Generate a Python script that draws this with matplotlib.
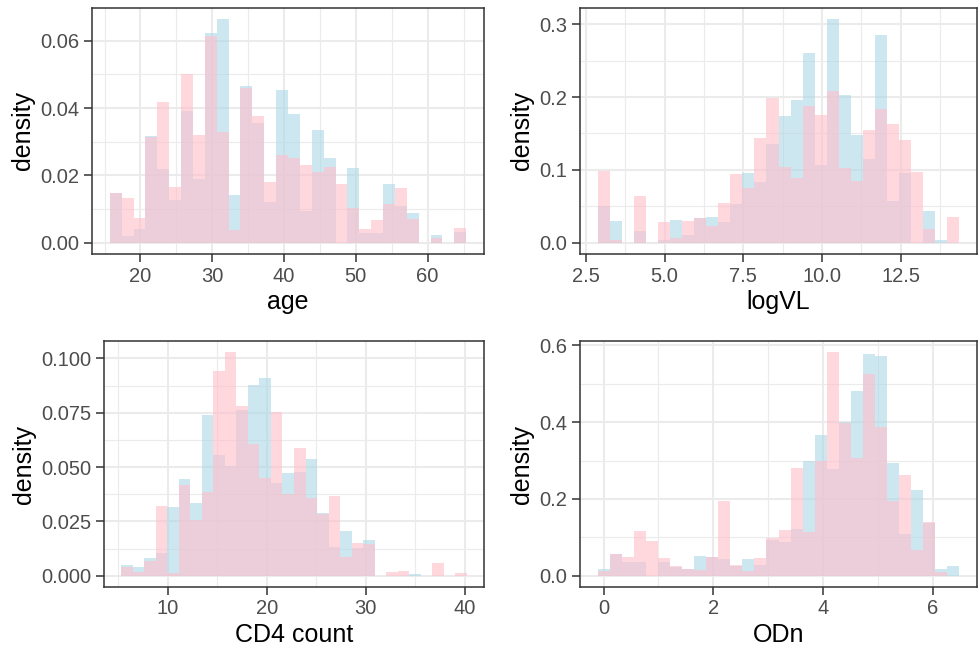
import numpy as np
import matplotlib
matplotlib.use("Agg")
import matplotlib.pyplot as plt
from matplotlib.ticker import FixedLocator

plt.rcParams["font.family"] = ["Liberation Sans", "DejaVu Sans"]

# ---- data (30 bins per panel, density scale) ----
age_range = (15.74, 65.37)
age_blue = [0.0147, 0.0021, 0.0042, 0.0317, 0.0219, 0.0127, 0.0390, 0.0190,
            0.0622, 0.0664, 0.0142, 0.0466, 0.0357, 0.0120, 0.0454, 0.0383,
            0.0094, 0.0335, 0.0252, 0.0, 0.0221, 0.0030, 0.0028, 0.0174,
            0.0110, 0.0088, 0.0, 0.0024, 0.0, 0.0032]
age_pink = [0.0147, 0.0133, 0.0073, 0.0315, 0.0417, 0.0165, 0.0501, 0.0320,
            0.0614, 0.0330, 0.0039, 0.0459, 0.0377, 0.0180, 0.0260, 0.0253,
            0.0231, 0.0211, 0.0226, 0.0176, 0.0104, 0.0042, 0.0069, 0.0115,
            0.0162, 0.0070, 0.0, 0.0014, 0.0, 0.0044]

logvl_range = (2.885, 14.35)
logvl_blue = [0.0507, 0.0306, 0.0, 0.0164, 0.0, 0.0032, 0.0315, 0.0110,
              0.0342, 0.0356, 0.0279, 0.0534, 0.0954, 0.0840, 0.1356, 0.1740,
              0.1959, 0.2603, 0.1073, 0.3068, 0.2023, 0.1479, 0.1146, 0.2849,
              0.0575, 0.0963, 0.0, 0.0443, 0.0032, 0.0]
logvl_pink = [0.0982, 0.0041, 0.0, 0.0648, 0.0, 0.0283, 0.0068, 0.0306,
              0.0338, 0.0233, 0.0548, 0.0941, 0.0749, 0.1438, 0.1982, 0.1046,
              0.0895, 0.1877, 0.1753, 0.2082, 0.1023, 0.0849, 0.1548, 0.1836,
              0.1630, 0.1411, 0.0973, 0.0192, 0.0, 0.0361]

cd4_range = (5.325, 40.2)
cd4_blue = [0.0048, 0.0041, 0.0084, 0.0103, 0.0315, 0.0446, 0.0337, 0.0741,
            0.0554, 0.0504, 0.0764, 0.0876, 0.0910, 0.0429, 0.0472, 0.0479,
            0.0539, 0.0288, 0.0133, 0.0208, 0.0126, 0.0165, 0.0, 0.0,
            0.0, 0.0009, 0.0, 0.0, 0.0, 0.0]
cd4_pink = [0.0041, 0.0017, 0.0066, 0.0323, 0.0012, 0.0420, 0.0256, 0.0387,
            0.0943, 0.1029, 0.0783, 0.0605, 0.0449, 0.0755, 0.0375, 0.0590,
            0.0360, 0.0285, 0.0366, 0.0086, 0.0152, 0.0145, 0.0, 0.0018,
            0.0020, 0.0, 0.0, 0.0058, 0.0, 0.0012]

odn_range = (-0.101, 6.472)
odn_blue = [0.0173, 0.0560, 0.0372, 0.0372, 0.0, 0.0372, 0.0233, 0.0170,
            0.0527, 0.0493, 0.0450, 0.0259, 0.0441, 0.0277, 0.0943, 0.0882,
            0.1211, 0.2983, 0.3675, 0.2767, 0.4012, 0.4816, 0.5767, 0.5716,
            0.2940, 0.1081, 0.2239, 0.1375, 0.0173, 0.0268]
odn_pink = [0.0138, 0.0560, 0.0493, 0.1176, 0.0899, 0.0476, 0.0268, 0.0170,
            0.0147, 0.0502, 0.1937, 0.0277, 0.0138, 0.0476, 0.0977, 0.1185,
            0.2802, 0.1133, 0.2992, 0.5819, 0.3977, 0.3078, 0.5257, 0.3865,
            0.1946, 0.2628, 0.0666, 0.1409, 0.0095, 0.0]

age_xticks = [20, 30, 40, 50, 60]
age_yticks = [0.0, 0.02, 0.04, 0.06]
logvl_xticks = [2.5, 5.0, 7.5, 10.0, 12.5]
logvl_yticks = [0.0, 0.1, 0.2, 0.3]
cd4_xticks = [10, 20, 30, 40]
cd4_yticks = [0.0, 0.025, 0.05, 0.075, 0.1]
odn_xticks = [0, 2, 4, 6]
odn_yticks = [0.0, 0.2, 0.4, 0.6]

W, H = 979, 652
fig = plt.figure(figsize=(W / 100, H / 100), dpi=100)


def add_axes(left, right, top, bottom):
    return fig.add_axes([left / W, 1 - bottom / H, (right - left) / W, (bottom - top) / H])


def panel(ax, rng, blue, pink, xticks, yticks, xfmt, yfmt, xlabel):
    edges = np.linspace(rng[0], rng[1], len(blue) + 1)
    # filled step outlines: one polygon per group, so no seams between bins
    ax.stairs(blue, edges, fill=True, color="#ADD8E6", alpha=0.6,
              linewidth=0, zorder=2)
    ax.stairs(pink, edges, fill=True, color="#FFC0CB", alpha=0.62,
              linewidth=0, zorder=3)
    span = rng[1] - rng[0]
    ax.set_xlim(rng[0] - 0.05 * span, rng[1] + 0.05 * span)
    ymax = max(max(blue), max(pink))
    ax.set_ylim(-0.05 * ymax, 1.05 * ymax)

    ax.set_xticks(xticks)
    ax.set_xticklabels([xfmt.format(v) for v in xticks])
    ax.set_yticks(yticks)
    ax.set_yticklabels([yfmt.format(v) for v in yticks])
    dx = xticks[1] - xticks[0]
    dy = yticks[1] - yticks[0]
    xminor = [xticks[0] - dx / 2] + [v + dx / 2 for v in xticks]
    yminor = [v + dy / 2 for v in yticks]
    ax.xaxis.set_minor_locator(FixedLocator(xminor))
    ax.yaxis.set_minor_locator(FixedLocator(yminor))

    ax.grid(True, which="major", color="#EBEBEB", linewidth=1.5, zorder=0)
    ax.grid(True, which="minor", color="#EBEBEB", linewidth=0.8, zorder=0)
    ax.set_axisbelow(True)
    ax.tick_params(which="major", length=5.5, width=1.1, color="#333333",
                   labelsize=14.5, labelcolor="#4D4D4D", pad=3.5)
    ax.tick_params(which="minor", length=0)
    for s in ax.spines.values():
        s.set_color("#333333")
        s.set_linewidth(1.1)
    ax.set_xlabel(xlabel, fontsize=18, color="black", labelpad=3)
    ax.set_ylabel("density", fontsize=18, color="black", labelpad=4)


ax1 = add_axes(92, 484, 8, 254)
panel(ax1, age_range, age_blue, age_pink, age_xticks, age_yticks,
      "{:g}", "{:.2f}", "age")
ax2 = add_axes(580, 977, 8, 254)
panel(ax2, logvl_range, logvl_blue, logvl_pink, logvl_xticks, logvl_yticks,
      "{:.1f}", "{:.1f}", "logVL")
ax3 = add_axes(104, 484, 341, 587)
panel(ax3, cd4_range, cd4_blue, cd4_pink, cd4_xticks, cd4_yticks,
      "{:g}", "{:.3f}", "CD4 count")
ax4 = add_axes(580, 977, 341, 587)
panel(ax4, odn_range, odn_blue, odn_pink, odn_xticks, odn_yticks,
      "{:g}", "{:.1f}", "ODn")

fig.savefig("out.png", dpi=100)
